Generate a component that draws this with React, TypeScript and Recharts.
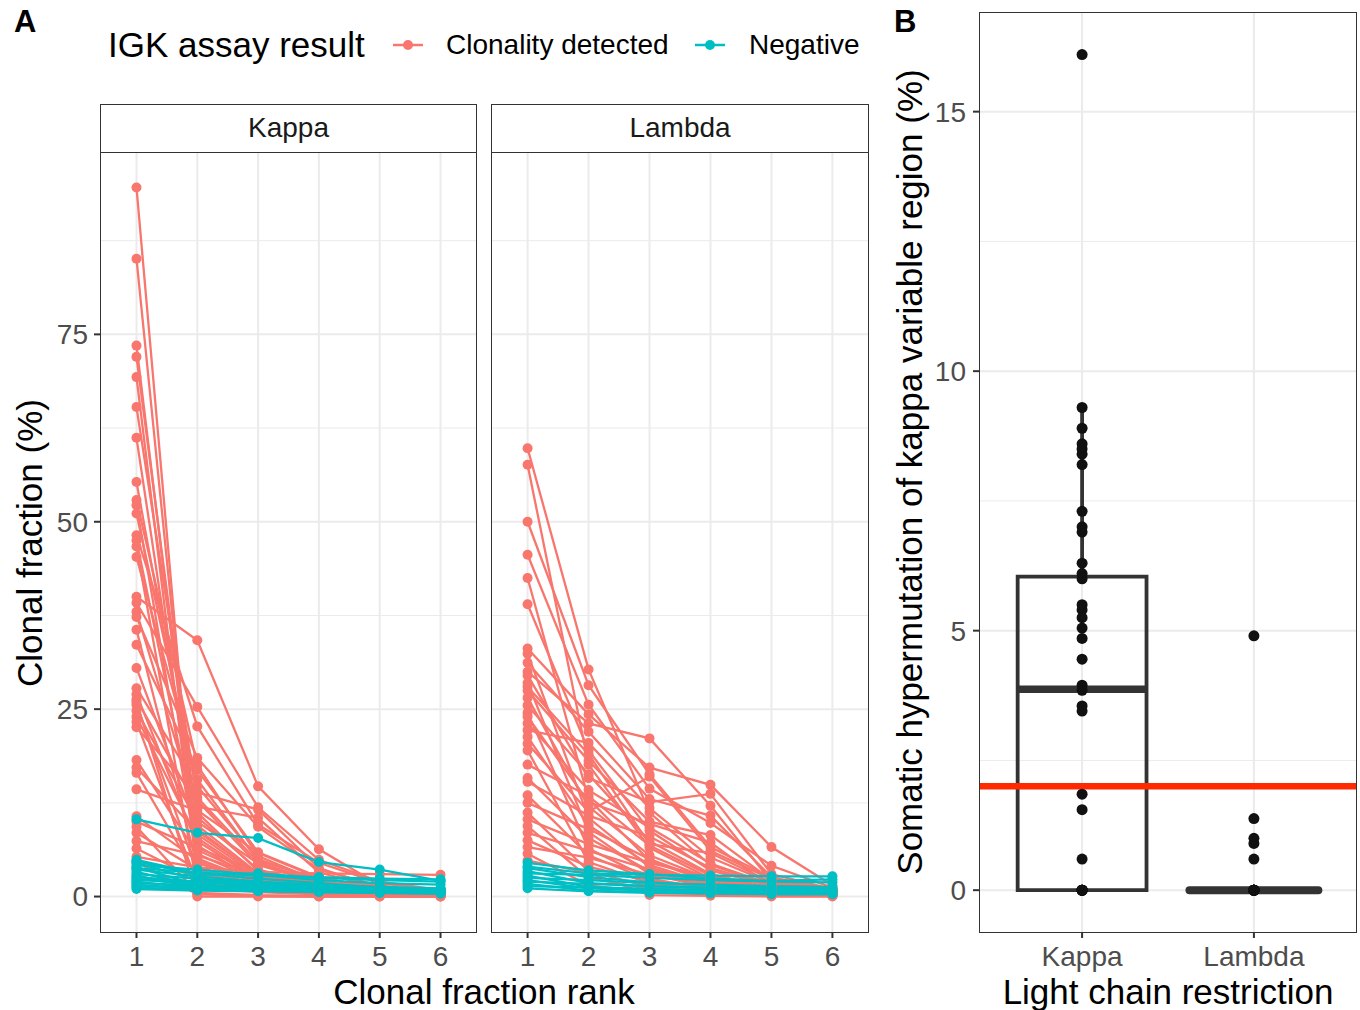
import React from 'react';
import {
  LineChart,
  Line,
  XAxis,
  YAxis,
  CartesianGrid,
  ComposedChart,
  Scatter,
  ReferenceLine,
  ReferenceArea,
} from 'recharts';

const FONT = '"Liberation Sans", Arial, Helvetica, sans-serif';
const RED = '#F8766D';
const CYAN = '#00BFC4';

// ---- panel A data: clonal fraction (%) at rank 1..6, one row per sample ----
const ranks = [1, 2, 3, 4, 5, 6];
const fracTicks = [0, 25, 50, 75];
const fracMinor = [12.5, 37.5, 62.5, 87.5];

const kappaClonal = [
  [94.6, 2.1, 1.2, 0.6, 0.4, 0.3],
  [85.1, 4.5, 1.8, 0.9, 0.5, 0.3],
  [73.5, 6.2, 2.5, 1.1, 0.6, 0.4],
  [72.0, 9.5, 3.1, 1.5, 0.8, 0.5],
  [69.3, 3.0, 1.4, 0.8, 0.5, 0.2],
  [65.3, 12.8, 4.2, 1.9, 1.0, 0.6],
  [61.2, 7.4, 2.2, 1.0, 0.6, 0.3],
  [55.3, 10.6, 3.6, 1.7, 0.9, 0.5],
  [52.9, 17.5, 5.4, 2.0, 1.1, 0.6],
  [52.2, 5.1, 1.9, 0.9, 0.4, 0.2],
  [51.1, 13.9, 11.6, 3.8, 1.2, 0.7],
  [48.2, 22.7, 9.6, 4.5, 1.8, 0.8],
  [47.5, 8.3, 2.7, 1.3, 0.7, 0.4],
  [46.7, 1.2, 0.6, 0.3, 0.2, 0.1],
  [45.3, 15.6, 4.8, 2.4, 1.3, 0.7],
  [40.0, 34.2, 14.7, 6.3, 1.5, 0.6],
  [39.2, 25.3, 11.9, 4.9, 2.0, 0.9],
  [38.0, 11.2, 3.4, 1.6, 0.8, 0.4],
  [37.3, 18.5, 9.3, 3.6, 1.4, 0.6],
  [35.6, 4.0, 1.5, 0.7, 0.3, 0.2],
  [33.6, 16.9, 5.9, 2.6, 1.0, 0.5],
  [30.5, 9.0, 2.9, 1.2, 0.6, 0.3],
  [27.8, 14.7, 5.0, 2.1, 0.9, 0.4],
  [27.0, 6.8, 2.0, 0.9, 0.5, 0.2],
  [26.3, 12.0, 10.5, 3.2, 1.2, 0.5],
  [25.6, 3.3, 1.3, 0.6, 0.3, 0.1],
  [24.8, 10.0, 4.4, 1.8, 0.8, 0.4],
  [24.0, 7.8, 2.4, 1.0, 0.5, 0.2],
  [23.3, 1.8, 0.9, 0.4, 0.2, 0.1],
  [22.6, 13.2, 4.6, 1.9, 0.9, 0.5],
  [18.2, 5.7, 2.1, 1.0, 0.5, 0.3],
  [17.2, 8.7, 3.0, 1.4, 0.6, 0.3],
  [16.5, 2.6, 1.1, 0.5, 0.3, 0.2],
  [14.3, 11.5, 5.8, 2.5, 1.1, 0.5],
  [10.7, 4.8, 1.7, 0.8, 0.4, 0.2],
  [10.0, 6.5, 3.3, 1.5, 0.7, 0.3],
  [9.3, 0.5, 0.2, 0.1, 0.1, 0.0],
  [8.5, 3.6, 1.6, 0.9, 0.4, 0.2],
  [7.4, 5.5, 2.8, 1.3, 0.6, 0.3],
  [6.4, 2.3, 1.0, 0.5, 0.2, 0.1],
  [5.3, 3.9, 3.3, 3.1, 3.0, 2.9],
  [4.6, 0.3, 0.1, 0.0, 0.0, 0.0],
  [26.0, 0.0, 0.0, 0.0, 0.0, 0.0],
];

const kappaNegative = [
  [10.3, 8.5, 7.8, 4.6, 3.6, 2.1],
  [4.9, 3.1, 2.4, 1.8, 1.2, 0.9],
  [4.5, 2.2, 1.7, 1.3, 1.0, 0.8],
  [4.2, 3.6, 2.9, 2.2, 1.8, 1.6],
  [3.9, 1.6, 1.2, 1.0, 0.8, 0.6],
  [3.6, 2.7, 2.0, 1.5, 1.1, 0.9],
  [3.3, 1.4, 1.0, 0.8, 0.7, 0.5],
  [3.0, 2.4, 1.9, 1.6, 1.3, 1.1],
  [2.8, 1.2, 0.9, 0.7, 0.6, 0.5],
  [2.6, 2.0, 1.7, 1.4, 1.2, 1.0],
  [2.4, 1.5, 1.1, 0.9, 0.7, 0.6],
  [2.2, 1.9, 1.5, 1.3, 1.1, 1.0],
  [2.0, 1.1, 0.8, 0.7, 0.5, 0.4],
  [1.8, 1.5, 1.3, 1.1, 0.9, 0.8],
  [1.6, 1.0, 0.8, 0.6, 0.5, 0.4],
  [1.4, 1.2, 1.0, 0.9, 0.8, 0.7],
  [1.2, 0.9, 0.8, 0.7, 0.6, 0.5],
  [1.0, 0.8, 0.7, 0.6, 0.5, 0.5],
  [3.8, 3.2, 2.8, 2.6, 2.4, 2.3],
  [4.7, 2.9, 3.1, 2.5, 2.2, 2.0],
];

const lambdaClonal = [
  [59.8, 30.3, 11.2, 4.2, 1.5, 0.6],
  [57.6, 17.6, 6.5, 2.4, 1.0, 0.4],
  [50.0, 28.2, 16.3, 6.6, 2.5, 0.8],
  [45.6, 25.6, 14.4, 9.8, 4.1, 1.2],
  [42.5, 13.0, 4.8, 1.9, 0.8, 0.3],
  [39.0, 19.5, 8.8, 3.5, 1.4, 0.5],
  [33.1, 24.3, 17.2, 14.9, 6.6, 1.5],
  [32.4, 10.5, 3.9, 1.6, 0.7, 0.3],
  [30.0, 23.1, 21.1, 12.1, 2.0, 0.7],
  [29.5, 15.8, 12.6, 13.7, 3.0, 1.0],
  [28.5, 8.6, 3.0, 1.2, 0.5, 0.2],
  [27.5, 18.1, 10.0, 8.2, 2.2, 0.8],
  [26.5, 12.0, 5.5, 2.3, 0.9, 0.4],
  [25.5, 16.3, 7.4, 3.0, 1.2, 0.5],
  [24.5, 6.4, 2.4, 1.0, 0.4, 0.2],
  [23.1, 14.2, 9.2, 4.4, 1.6, 0.6],
  [22.2, 20.5, 11.8, 5.2, 1.8, 0.7],
  [21.3, 9.5, 4.2, 1.7, 0.7, 0.3],
  [20.4, 11.3, 16.0, 6.1, 2.3, 0.9],
  [19.5, 4.6, 1.8, 0.8, 0.3, 0.1],
  [17.6, 13.4, 6.8, 2.8, 1.1, 0.5],
  [15.8, 7.8, 3.4, 1.4, 0.6, 0.2],
  [15.3, 10.8, 8.0, 3.8, 1.5, 0.6],
  [13.5, 5.5, 2.2, 0.9, 0.4, 0.2],
  [12.5, 9.0, 5.0, 2.0, 0.8, 0.3],
  [11.2, 3.4, 1.3, 0.6, 0.3, 0.1],
  [10.3, 7.0, 4.5, 2.6, 1.0, 0.4],
  [9.4, 2.5, 1.0, 0.4, 0.2, 0.1],
  [8.5, 6.1, 3.6, 1.8, 0.7, 0.3],
  [7.5, 4.0, 2.0, 0.9, 0.4, 0.2],
  [6.6, 5.2, 2.9, 1.5, 0.6, 0.3],
  [5.7, 1.5, 0.6, 0.3, 0.1, 0.1],
  [4.8, 3.2, 0.2, 0.1, 0.0, 0.0],
  [31.2, 22.0, 13.0, 10.8, 2.6, 0.9],
  [28.0, 19.0, 7.0, 5.8, 1.9, 0.6],
  [24.0, 12.6, 9.7, 7.2, 1.3, 0.5],
];

const lambdaNegative = [
  [4.0, 3.1, 2.9, 2.8, 2.7, 2.7],
  [3.8, 2.6, 1.9, 1.5, 1.2, 1.0],
  [3.4, 1.8, 1.4, 1.1, 0.9, 0.8],
  [3.1, 2.9, 2.5, 2.2, 2.0, 1.9],
  [2.8, 1.3, 1.0, 0.8, 0.7, 0.6],
  [2.5, 2.2, 1.8, 1.6, 1.4, 1.3],
  [2.2, 1.1, 0.8, 0.6, 0.5, 0.4],
  [2.0, 1.7, 1.4, 1.2, 1.1, 1.0],
  [1.7, 0.8, 0.6, 0.5, 0.4, 0.4],
  [1.4, 1.2, 1.0, 0.9, 0.8, 0.7],
  [1.1, 0.7, 0.5, 0.4, 0.3, 0.3],
  [4.5, 3.5, 3.0, 2.4, 2.1, 2.3],
];

// ---- panel B data: somatic hypermutation (%) per sample ----
const lightChains = ['Kappa', 'Lambda'];
const shmTicks = [0, 5, 10, 15];
const shmMinor = [2.5, 7.5, 12.5];
const kappaShm = [
  16.1, 9.3, 8.9, 8.6, 8.5, 8.4, 8.2, 7.3, 7.0, 6.9, 6.3, 6.1, 6.0, 5.5, 5.4, 5.25,
  5.05, 4.85, 4.45, 3.95, 3.85, 3.55, 3.45, 1.85, 1.55, 0.6, 0, 0, 0, 0, 0, 0, 0, 0,
];
const lambdaShm = [4.9, 1.38, 1.0, 0.9, 0.6, 0, 0, 0, 0, 0, 0, 0, 0, 0, 0, 0, 0, 0];
// [lower whisker, Q1, median, Q3, upper whisker]
const kappaBox = [0, 0, 3.87, 6.04, 9.31];
const lambdaBox = [0, 0, 0, 0, 0];
const shmThreshold = 2;

const buildRows = (clonal: number[][], negative: number[][]) =>
  ranks.map((rank, i) => {
    const row: Record<string, number> = { rank };
    clonal.forEach((s, j) => {
      row['c' + j] = s[i];
    });
    negative.forEach((s, j) => {
      row['n' + j] = s[i];
    });
    return row;
  });

const tickStyle = { fill: '#4d4d4d', fontSize: 28, fontFamily: FONT };
const tickLine = { stroke: '#333333', strokeWidth: 2 };

const Facet = ({
  clonal,
  negative,
  showY,
  left,
  width,
}: {
  clonal: number[][];
  negative: number[][];
  showY: boolean;
  left: number;
  width: number;
}) => {
  const rows = buildRows(clonal, negative);
  const lineProps = { type: 'linear' as const, isAnimationActive: false, activeDot: false };
  return (
    <div style={{ position: 'absolute', left, top: 152 }}>
      <LineChart width={width} height={830} data={rows} margin={{ top: 0, right: 0, bottom: 0, left: 0 }}>
        <CartesianGrid horizontalValues={fracMinor} vertical={false} stroke="#ebebeb" strokeWidth={1} />
        <CartesianGrid horizontalValues={fracTicks} verticalValues={ranks} stroke="#ebebeb" strokeWidth={2} />
        <XAxis
          dataKey="rank"
          type="number"
          domain={[0.4, 6.6]}
          ticks={ranks}
          allowDataOverflow
          height={50}
          axisLine={false}
          tickLine={tickLine}
          tickSize={6}
          tickMargin={8}
          tick={tickStyle}
        />
        <YAxis
          type="number"
          domain={[-4.73, 99.33]}
          ticks={fracTicks}
          allowDataOverflow
          hide={!showY}
          width={60}
          axisLine={false}
          tickLine={tickLine}
          tickSize={6}
          tickMargin={6}
          tick={tickStyle}
        />
        {clonal.map((_, j) => (
          <Line key={'cl' + j} dataKey={'c' + j} stroke={RED} strokeWidth={2.3} dot={false} {...lineProps} />
        ))}
        {negative.map((_, j) => (
          <Line key={'nl' + j} dataKey={'n' + j} stroke={CYAN} strokeWidth={2.3} dot={false} {...lineProps} />
        ))}
        {clonal.map((_, j) => (
          <Line
            key={'cp' + j}
            dataKey={'c' + j}
            stroke="none"
            dot={{ r: 5, fill: RED, stroke: 'none', strokeWidth: 0 }}
            {...lineProps}
          />
        ))}
        {negative.map((_, j) => (
          <Line
            key={'np' + j}
            dataKey={'n' + j}
            stroke="none"
            dot={{ r: 5, fill: CYAN, stroke: 'none', strokeWidth: 0 }}
            {...lineProps}
          />
        ))}
      </LineChart>
    </div>
  );
};

const dotShape = (p: any) => <circle cx={p.cx} cy={p.cy} r={5.5} fill="#111111" />;

const ShmPanel = () => {
  const kPts = kappaShm.map((y) => ({ x: 1, y }));
  const lPts = lambdaShm.map((y) => ({ x: 2, y }));
  const half = 0.375;
  const boxStroke = '#333333';
  return (
    <div style={{ position: 'absolute', left: 929, top: 12 }}>
      <ComposedChart width={428} height={970} margin={{ top: 0, right: 0, bottom: 0, left: 0 }}>
        <CartesianGrid horizontalValues={shmMinor} vertical={false} stroke="#ebebeb" strokeWidth={1} />
        <CartesianGrid horizontalValues={shmTicks} verticalValues={[1, 2]} stroke="#ebebeb" strokeWidth={2} />
        <XAxis
          dataKey="x"
          type="number"
          domain={[0.4, 2.6]}
          ticks={[1, 2]}
          tickFormatter={(v: number) => lightChains[v - 1]}
          allowDataOverflow
          height={50}
          axisLine={false}
          tickLine={tickLine}
          tickSize={6}
          tickMargin={8}
          tick={tickStyle}
        />
        <YAxis
          dataKey="y"
          type="number"
          domain={[-0.806, 16.92]}
          ticks={shmTicks}
          allowDataOverflow
          width={50}
          axisLine={false}
          tickLine={tickLine}
          tickSize={6}
          tickMargin={7}
          tick={tickStyle}
        />
        <ReferenceLine y={shmThreshold} stroke="#FF2A00" strokeWidth={6.5} />
        <ReferenceArea
          x1={1 - half}
          x2={1 + half}
          y1={kappaBox[1]}
          y2={kappaBox[3]}
          fill="#ffffff"
          fillOpacity={0}
          stroke={boxStroke}
          strokeWidth={3.8}
        />
        <ReferenceLine
          segment={[{ x: 1, y: kappaBox[3] }, { x: 1, y: kappaBox[4] }]}
          stroke={boxStroke}
          strokeWidth={3.8}
        />
        <ReferenceLine
          segment={[{ x: 1 - half, y: kappaBox[2] }, { x: 1 + half, y: kappaBox[2] }]}
          stroke={boxStroke}
          strokeWidth={7.5}
        />
        <ReferenceLine
          segment={[{ x: 2 - half, y: lambdaBox[2] }, { x: 2 + half, y: lambdaBox[2] }]}
          stroke={boxStroke}
          strokeWidth={8}
          strokeLinecap="round"
        />
        <Scatter data={kPts} dataKey="y" shape={dotShape} isAnimationActive={false} />
        <Scatter data={lPts} dataKey="y" shape={dotShape} isAnimationActive={false} />
      </ComposedChart>
    </div>
  );
};

const LegendKey = ({ left, color }: { left: number; color: string }) => (
  <svg style={{ position: 'absolute', left, top: 30 }} width={36} height={30}>
    <line x1={3} y1={15} x2={33} y2={15} stroke={color} strokeWidth={2.5} />
    <circle cx={18} cy={15} r={5} fill={color} />
  </svg>
);

const text = (style: React.CSSProperties, content: string) => (
  <div
    style={{
      position: 'absolute',
      fontFamily: FONT,
      whiteSpace: 'nowrap',
      ...style,
    }}
  >
    {content}
  </div>
);

const box = (left: number, top: number, width: number, height: number) => (
  <div
    style={{
      position: 'absolute',
      left,
      top,
      width,
      height,
      border: '1.5px solid #333333',
      boxSizing: 'border-box',
      pointerEvents: 'none',
    }}
  />
);

export default function App() {
  return (
    <div
      style={{
        position: 'absolute',
        left: 0,
        top: 0,
        width: 1360,
        height: 1010,
        background: '#ffffff',
        overflow: 'hidden',
      }}
    >
      {text({ left: 14, top: 4, fontSize: 31, fontWeight: 'bold', color: '#000' }, 'A')}
      {text({ left: 894, top: 4, fontSize: 31, fontWeight: 'bold', color: '#000' }, 'B')}

      {text({ left: 108, top: 25, fontSize: 35, lineHeight: '40px', color: '#000' }, 'IGK assay result')}
      <LegendKey left={390} color={RED} />
      {text({ left: 446, top: 27, fontSize: 28, lineHeight: '36px', color: '#000' }, 'Clonality detected')}
      <LegendKey left={692} color={CYAN} />
      {text({ left: 749, top: 27, fontSize: 28, lineHeight: '36px', color: '#000' }, 'Negative')}

      <Facet clonal={kappaClonal} negative={kappaNegative} showY left={40} width={437} />
      <Facet clonal={lambdaClonal} negative={lambdaNegative} showY={false} left={491} width={378} />
      {box(100, 104, 377, 49)}
      {box(100, 152, 377, 781)}
      {box(491, 104, 378, 49)}
      {box(491, 152, 378, 781)}
      {text({ left: 100, top: 110, width: 377, textAlign: 'center', fontSize: 28, lineHeight: '36px', color: '#1a1a1a' }, 'Kappa')}
      {text({ left: 491, top: 110, width: 378, textAlign: 'center', fontSize: 28, lineHeight: '36px', color: '#1a1a1a' }, 'Lambda')}

      {text(
        { left: -170, top: 523, width: 400, height: 40, lineHeight: '40px', textAlign: 'center', fontSize: 35, color: '#000', transform: 'rotate(-90deg)' },
        'Clonal fraction (%)',
      )}
      {text({ left: 184, top: 972, width: 600, lineHeight: '40px', textAlign: 'center', fontSize: 35, color: '#000' }, 'Clonal fraction rank')}

      <ShmPanel />
      {box(979, 12, 378, 921)}
      {text(
        { left: 460, top: 452, width: 900, height: 40, lineHeight: '40px', textAlign: 'center', fontSize: 35, color: '#000', transform: 'rotate(-90deg)' },
        'Somatic hypermutation of kappa variable region (%)',
      )}
      {text({ left: 868, top: 972, width: 600, lineHeight: '40px', textAlign: 'center', fontSize: 35, color: '#000' }, 'Light chain restriction')}
    </div>
  );
}
